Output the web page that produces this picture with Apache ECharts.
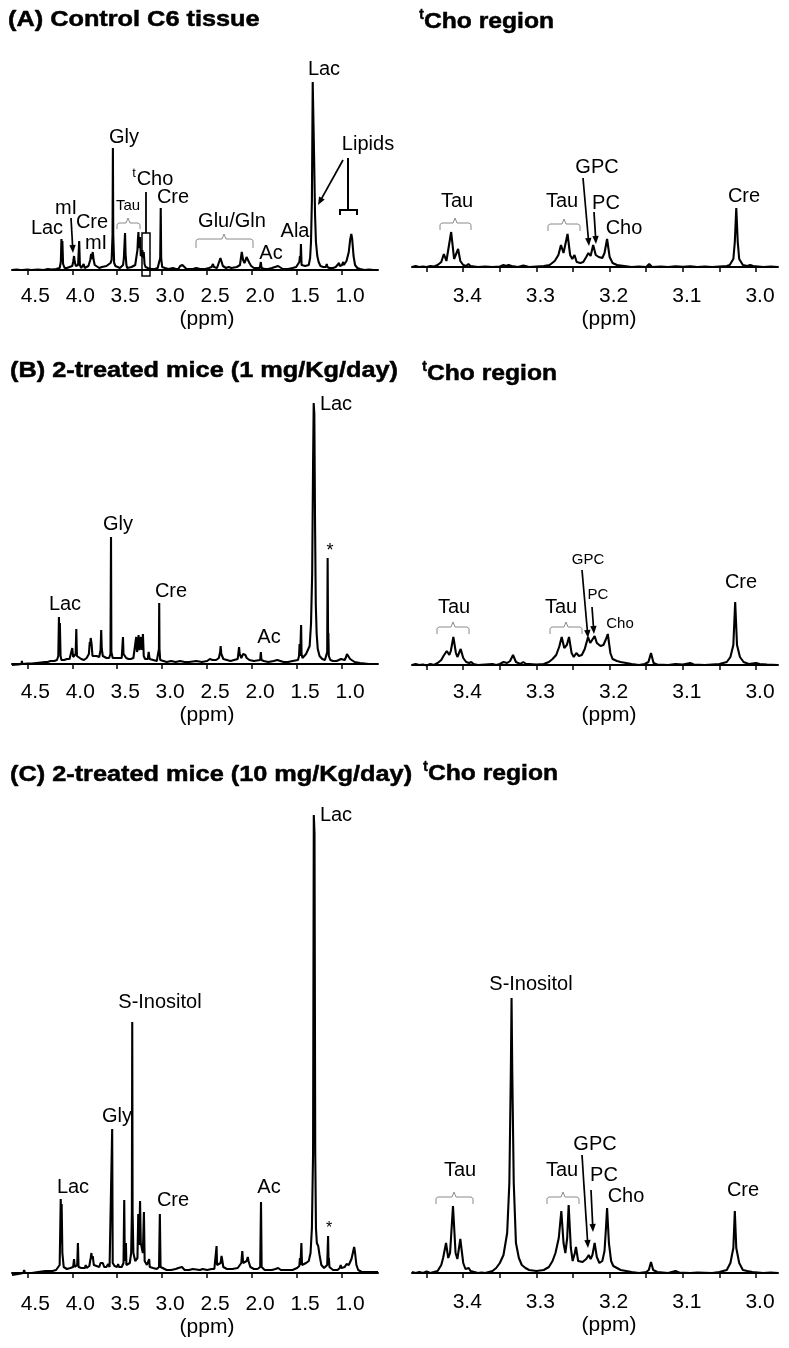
<!DOCTYPE html>
<html>
<head>
<meta charset="utf-8">
<script src="https://cdn.jsdelivr.net/npm/echarts@6/dist/echarts.min.js"></script>
<style>
html,body{margin:0;padding:0;background:#fff;}
#chart{width:789px;height:1348px;}
</style>
</head>
<body>
<div id="chart"></div>
<script>
// ---------- DATA (ppm, intensity in a.u. above baseline) ----------
const fullTicks = [1.0, 1.5, 2.0, 2.5, 3.0, 3.5, 4.0, 4.5];
const choLabels = [3.0, 3.1, 3.2, 3.3, 3.4];
const choTicks = [3.0, 3.05, 3.1, 3.15, 3.2, 3.25, 3.3, 3.35, 3.4, 3.45];

const panelTitles = ["(A) Control C6 tissue", "(B) 2-treated mice (1 mg/Kg/day)", "(C) 2-treated mice (10 mg/Kg/day)"];
const regionTitle = "Cho region";

// (A) Control C6 tissue, full spectrum
const specA_full = [
[4.67,0],[4.62,0.5],[4.575,0],[4.56,2],[4.55,0],[4.50,0.5],[4.455,0],[4.445,1.5],[4.435,0],[4.38,0.5],[4.32,0],[4.27,1],[4.25,2],[4.23,0.5],[4.18,1],[4.14,2],
[4.127,8],[4.12,31],[4.115,18],[4.11,29],[4.102,6],[4.085,2],[4.06,2],[4.04,3],
[4.00,4],[3.99,8],[3.98,14],[3.972,8],[3.96,4],
[3.935,5],[3.923,29],[3.915,5],[3.90,2],[3.885,3],[3.873,6],[3.862,2],
[3.82,4],[3.80,10],[3.79,16],[3.782,11],[3.772,18],[3.762,10],[3.75,5],[3.73,3],
[3.70,2],[3.67,3],[3.65,2],[3.62,4],[3.60,5],[3.575,7],
[3.562,10],[3.552,35],[3.548,122],[3.544,35],[3.534,7],[3.52,4],[3.50,3],[3.47,2],[3.45,3],
[3.435,5],[3.426,12],[3.42,14],[3.413,37],[3.407,16],[3.398,5],[3.39,2],[3.37,2],
[3.34,3],[3.32,4],[3.30,5],
[3.285,7],[3.275,20],[3.27,30],[3.264,38],[3.258,22],[3.252,25],[3.245,33],[3.238,14],
[3.232,18],[3.226,13],[3.22,20],[3.212,12],[3.205,18],[3.196,6],[3.185,3],[3.16,2],[3.12,1],[3.08,1],[3.05,2],
[3.032,3],[3.022,12],[3.016,62],[3.011,12],[3.00,3],[2.97,2],[2.93,1],[2.88,2],[2.85,1],
[2.82,1],[2.80,4],[2.775,5],[2.76,3],[2.73,1],[2.70,1],[2.68,2],[2.66,1],[2.62,2],[2.58,1],[2.52,1],
[2.48,2],[2.45,3],[2.435,6],[2.425,3],[2.41,4],[2.39,2],
[2.37,4],[2.352,12],[2.344,14],[2.336,12],[2.325,4],[2.29,2],[2.26,3],[2.23,2],[2.17,3],
[2.135,5],[2.115,18],[2.108,19],[2.1,10],[2.085,7],
[2.072,10],[2.062,13],[2.052,14],[2.044,11],[2.03,7],[2.01,4],[1.98,2],[1.96,2],
[1.915,2],[1.903,8],[1.895,2],[1.86,1],[1.82,1],
[1.78,2],[1.745,3],[1.71,4],[1.69,2],[1.66,1],[1.60,1],[1.55,2],[1.51,3],
[1.49,4],[1.475,8],[1.468,14],[1.462,8],[1.457,26],[1.45,5],[1.43,3],[1.41,4],
[1.39,3],[1.37,5],[1.355,12],[1.345,28],[1.335,70],[1.326,188],[1.318,186],[1.31,110],[1.30,55],[1.29,28],[1.275,14],[1.26,8],[1.24,4],[1.21,3],
[1.18,3],[1.17,6],[1.163,3],[1.14,2],[1.10,2],[1.07,3],[1.05,4],[1.033,7],[1.025,4],[1.00,5],[0.987,8],[0.98,5],[0.965,6],[0.95,9],[0.94,10],
[0.925,18],[0.91,30],[0.897,36],[0.887,31],[0.872,14],[0.855,5],[0.83,2],[0.80,1],[0.75,0],[0.70,0.5],[0.65,0],[0.60,0]
];

// (A) tCho region
const specA_cho = [
[3.47,0],[3.465,1],[3.46,0],[3.455,0.5],[3.45,0],[3.445,1],[3.44,0.5],[3.435,2],[3.43,5],[3.4265,13],[3.423,6],[3.4205,8],[3.4165,35],[3.4125,8],[3.41,7],[3.407,18],[3.404,6],[3.40,2],[3.396,1],[3.393,3],[3.39,1],
[3.38,0],[3.37,0.5],[3.36,0],[3.35,0.5],[3.345,2],[3.342,1],[3.338,2],[3.334,1],[3.325,0],[3.318,1.5],[3.31,0],[3.30,0.5],[3.29,1],
[3.282,2],[3.275,6],[3.27,12],[3.2665,22],[3.263,14],[3.2575,33],[3.254,12],[3.251,8],[3.248,12],[3.245,5],[3.24,4],
[3.236,5],[3.232,10],[3.229,14],[3.226,11],[3.2225,22],[3.219,12],[3.215,10],[3.21,9],[3.207,14],[3.2035,28],[3.20,10],[3.196,4],[3.19,2],[3.18,1],[3.17,0],
[3.16,0.5],[3.15,0],[3.146,3],[3.142,0],[3.13,0.5],[3.12,0],[3.11,0.8],[3.10,0.3],[3.09,0.8],[3.08,0],[3.07,0.5],[3.06,0],[3.05,0.5],[3.04,1],
[3.036,2],[3.031,8],[3.029,25],[3.027,59],[3.025,25],[3.023,8],[3.018,2],[3.012,1],[3.008,2],[3.004,1],[2.99,0],[2.98,0.5],[2.97,0]
];

// (B) 1 mg/Kg/day, full spectrum
const specB_full = [
[4.67,-1],[4.60,-0.5],[4.565,0],[4.56,3],[4.555,0],[4.50,0.5],[4.45,0.5],[4.40,1],[4.35,1.5],[4.30,2],[4.285,4],[4.275,2],[4.24,3],[4.20,3],[4.17,4],
[4.155,8],[4.148,47],[4.143,20],[4.138,41],[4.13,8],[4.12,4],[4.09,4],[4.06,5],[4.03,5],
[4.01,7],[4.0,16],[3.99,7],[3.975,8],[3.962,10],[3.955,35],[3.948,8],[3.93,6],[3.90,5],[3.88,6],[3.87,4],[3.84,6],
[3.815,10],[3.805,22],[3.80,18],[3.795,26],[3.785,20],[3.775,8],[3.76,6],[3.73,8],[3.72,6],[3.70,7],
[3.685,14],[3.678,34],[3.672,15],[3.66,8],[3.62,6],[3.59,6],
[3.575,10],[3.569,127],[3.565,12],[3.55,6],[3.535,5],
[3.45,6],[3.436,27],[3.43,10],[3.425,12],[3.418,8],[3.40,6],[3.385,8],[3.375,5],[3.35,5],[3.32,6],
[3.30,8],[3.289,27],[3.28,12],[3.272,15],[3.263,29],[3.255,14],[3.245,15],[3.237,27],[3.228,14],[3.214,30],[3.205,8],[3.19,5],
[3.16,5],[3.15,12],[3.14,5],[3.10,4],[3.06,3],
[3.042,4],[3.036,15],[3.033,61],[3.03,15],[3.022,4],[3.0,3],[2.95,2],[2.90,3],[2.85,2],[2.80,3],[2.75,2],[2.70,2],[2.62,3],[2.56,2],
[2.50,3],[2.47,5],[2.455,7],[2.44,4],[2.425,5],[2.40,4],[2.37,6],[2.355,12],[2.35,18],[2.342,10],[2.335,12],[2.32,5],[2.28,4],[2.24,3],[2.20,4],
[2.16,5],[2.145,17],[2.138,10],[2.13,8],[2.12,6],[2.10,10],[2.085,8],[2.075,9],[2.06,6],[2.03,4],[1.98,3],
[1.91,4],[1.903,12],[1.896,4],[1.87,3],[1.82,2],[1.76,3],[1.72,4],[1.70,3],[1.65,2],[1.60,2],[1.55,3],
[1.49,4],[1.478,8],[1.472,20],[1.466,8],[1.46,10],[1.455,39],[1.45,10],[1.44,6],[1.42,8],[1.40,10],
[1.38,10],[1.36,18],[1.345,40],[1.332,90],[1.322,200],[1.315,261],[1.308,250],[1.30,140],[1.292,60],[1.282,30],[1.27,15],[1.25,8],[1.22,5],[1.19,4],
[1.175,5],[1.165,12],[1.16,106],[1.155,20],[1.152,31],[1.147,8],[1.13,4],[1.10,3],[1.06,3],
[1.035,4],[1.025,6],[1.02,4],[1.012,5],[1.005,3],[0.97,4],[0.955,7],[0.945,10],[0.935,11],[0.925,8],[0.91,5],[0.89,3],[0.86,2],[0.80,1],[0.70,0],[0.60,0]
];

// (B) tCho region
const specB_cho = [
[3.47,0],[3.465,1],[3.46,0],[3.455,0.5],[3.45,-0.5],[3.445,1],[3.44,0],[3.435,2],[3.43,5],[3.427,9],[3.4225,14],[3.419,10],[3.417,14],[3.4135,28],[3.41,12],[3.408,8],[3.4035,16],[3.40,7],[3.396,3],[3.392,2],[3.389,3],[3.386,1],
[3.38,0],[3.37,0.5],[3.36,1],[3.355,0],[3.35,1],[3.345,3],[3.343,4],[3.34,2],[3.336,4],[3.332,10],[3.328,3],[3.322,1],[3.318,3],[3.314,1],[3.31,1],[3.30,0.5],[3.29,1],
[3.283,3],[3.278,6],[3.273,10],[3.269,18],[3.2655,28],[3.262,17],[3.2605,15],[3.2585,20],[3.2555,28],[3.252,12],[3.249,8],[3.2455,12],[3.242,9],[3.238,10],
[3.234,16],[3.2295,28],[3.2265,22],[3.2245,24],[3.2205,29],[3.2175,22],[3.2125,19],[3.2085,20],[3.2055,25],[3.2025,31],[3.199,12],[3.196,6],[3.19,4],[3.185,3],[3.17,1],[3.16,0],
[3.152,1],[3.147,3],[3.1435,12],[3.14,2],[3.135,0.5],[3.12,0],[3.11,1],[3.10,0.5],[3.09,2],[3.085,0.5],[3.07,0],[3.06,0.5],[3.05,1],
[3.04,3],[3.035,8],[3.031,20],[3.0285,63],[3.026,20],[3.022,8],[3.017,3],[3.01,1],[3.005,1.5],[3.0,2],[2.995,1],[2.985,0.5],[2.97,0]
];

// (C) 10 mg/Kg/day, full spectrum
const specC_full = [
[4.67,-2],[4.60,-1],[4.545,0],[4.535,3],[4.525,0],[4.45,0],[4.38,1],[4.30,2],[4.285,3],[4.27,2],[4.22,2],[4.18,3],
[4.14,8],[4.128,74],[4.122,30],[4.118,69],[4.11,20],[4.104,20],[4.095,6],[4.06,4],[4.02,5],
[3.99,6],[3.98,14],[3.972,6],[3.96,6],[3.945,8],[3.937,30],[3.93,6],[3.90,5],[3.86,5],[3.85,8],[3.84,5],
[3.81,7],[3.795,15],[3.787,20],[3.78,14],[3.772,17],[3.76,8],[3.74,6],[3.70,6],[3.685,10],[3.66,10],[3.645,6],[3.62,6],[3.60,9],[3.585,6],
[3.565,8],[3.556,144],[3.55,10],[3.53,7],[3.50,6],[3.49,9],[3.48,6],[3.45,6],
[3.43,10],[3.422,73],[3.417,25],[3.41,12],[3.403,30],[3.398,8],
[3.36,10],[3.345,20],[3.337,60],[3.333,251],[3.329,60],[3.32,20],[3.30,12],
[3.275,15],[3.266,59],[3.256,28],[3.246,72],[3.238,30],[3.228,28],[3.215,20],[3.203,61],[3.195,12],[3.17,8],[3.145,14],[3.138,6],[3.10,5],[3.06,4],
[3.035,6],[3.026,59],[3.018,6],[3.0,4],[2.95,3],[2.90,3],[2.85,4],[2.82,5],[2.80,7],[2.78,6],[2.75,3],[2.70,3],[2.66,4],[2.64,3],[2.58,3],[2.55,4],[2.50,3],
[2.45,4],[2.435,6],[2.42,4],[2.40,6],[2.395,27],[2.39,8],[2.35,10],[2.34,17],[2.334,14],[2.33,14],[2.32,6],[2.28,4],[2.22,4],[2.16,5],
[2.12,10],[2.109,22],[2.10,10],[2.08,9],[2.06,12],[2.048,16],[2.04,12],[2.02,6],[1.98,4],[1.94,4],
[1.91,6],[1.901,71],[1.894,6],[1.86,3],[1.78,3],[1.74,4],[1.71,5],[1.68,3],[1.60,3],[1.55,3],[1.50,5],
[1.475,7],[1.468,15],[1.462,8],[1.452,30],[1.445,8],[1.43,8],[1.40,10],
[1.37,12],[1.35,20],[1.335,45],[1.322,120],[1.314,458],[1.306,440],[1.298,120],[1.29,45],[1.28,30],[1.265,27],[1.25,18],[1.23,8],[1.20,5],[1.18,5],
[1.165,8],[1.155,37],[1.15,12],[1.146,15],[1.14,6],[1.10,3],[1.05,3],
[1.025,5],[1.015,8],[1.008,5],[1.0,6],[0.99,4],[0.97,6],[0.95,9],[0.94,11],[0.925,8],[0.91,10],[0.895,14],[0.875,22],[0.865,26],[0.855,20],[0.84,8],[0.82,3],[0.78,1],[0.70,1],[0.60,1]
];

// (C) tCho region
const specC_cho = [
[3.47,1],[3.465,0],[3.46,1],[3.455,0],[3.45,1.5],[3.445,0],[3.44,1],[3.435,2],[3.43,8],[3.4275,15],[3.4235,30],[3.4205,15],[3.418,20],[3.414,67],[3.4105,20],[3.408,14],[3.404,34],[3.40,10],[3.397,4],[3.395,2],[3.3925,5],[3.39,2],[3.385,1],
[3.38,0],[3.375,0.5],[3.37,0],[3.365,1],[3.36,2],[3.355,5],[3.35,10],[3.345,18],[3.34,40],[3.337,90],[3.335,200],[3.334,275],[3.333,200],[3.331,90],[3.328,30],[3.324,15],[3.32,8],[3.315,5],[3.31,3],[3.30,2],
[3.29,3],[3.283,6],[3.278,12],[3.274,20],[3.2695,35],[3.266,62],[3.263,30],[3.2605,20],[3.258,35],[3.256,68],[3.253,25],[3.2505,12],[3.2475,20],[3.246,26],[3.243,12],[3.2405,10],
[3.237,11],[3.232,14],[3.2285,18],[3.226,14],[3.2235,18],[3.2205,30],[3.2175,16],[3.214,10],[3.21,12],[3.207,22],[3.205,45],[3.2035,65],[3.201,30],[3.198,12],[3.195,7],[3.19,5],[3.185,3],[3.17,1],[3.16,0],
[3.15,1],[3.1465,3],[3.1435,11],[3.1405,3],[3.135,1],[3.12,0],[3.11,2],[3.105,0.5],[3.09,0],[3.08,0.5],[3.06,0],[3.05,1],
[3.04,3],[3.035,10],[3.031,25],[3.029,62],[3.027,25],[3.023,10],[3.018,3],[3.012,2],[3.005,1],[2.99,0],[2.98,0.5],[2.97,0]
];

// ---------- LAYOUT ----------
const FONT = '"Liberation Sans", Arial, Helvetica, sans-serif';
const spectra = [specA_full, specA_cho, specB_full, specB_cho, specC_full, specC_cho];
const grids = [
  {left:12, top:60, width:366, height:218},
  {left:412, top:60, width:366, height:218},
  {left:12, top:395, width:366, height:279},
  {left:412, top:395, width:366, height:279},
  {left:12, top:800, width:366, height:486},
  {left:412, top:800, width:366, height:484}
];
const yRanges = [[-8,210],[-11,207],[-10,269],[-9,270],[-13,473],[-11,473]];

function xAxisFor(i){
  const full = (i % 2 === 0);
  return {
    gridIndex:i, type:'value', inverse:true,
    min: full ? 0.6 : 2.97, max: full ? 4.67 : 3.47,
    axisLine:{show:true, lineStyle:{color:'#000', width:2}},
    axisTick:{show:true, customValues: full ? fullTicks : choTicks, length:5, lineStyle:{color:'#000', width:1.5}},
    axisLabel:{customValues: full ? fullTicks : choLabels, formatter:v=>Number(v).toFixed(1),
      fontSize:21, color:'#000', fontFamily:FONT, margin:8, padding: full ? [0,0,0,16] : [0,0,0,8]},
    splitLine:{show:false},
    name:'(ppm)', nameLocation:'middle', nameGap:31,
    nameTextStyle:{fontSize:21, color:'#000', fontFamily:FONT, padding: full ? [0,0,0,24] : [0,0,0,28]}
  };
}

const G = [];
function T(x,y,s,size,o){
  o = o || {};
  const st = {text:s, fontSize:size, fontFamily:FONT, fontWeight:o.bold?'bold':'normal', fill:'#000',
      align:o.align||'center', verticalAlign:'middle'};
  if (o.stroke) { st.stroke = '#000'; st.lineWidth = o.stroke; }
  G.push({type:'text', x:x, y:y, scaleX:o.sx||1, z:10, style:st});
}
function L(x1,y1,x2,y2,w,c){
  G.push({type:'line', z:10, shape:{x1:x1,y1:y1,x2:x2,y2:y2}, style:{stroke:c||'#000', lineWidth:w||1.6}});
}
function P(pts,w,c){
  G.push({type:'polyline', z:10, shape:{points:pts}, style:{stroke:c||'#000', fill:null, lineWidth:w||1}});
}
function A(x1,y1,x2,y2){
  const dx=x2-x1, dy=y2-y1, len=Math.hypot(dx,dy), ux=dx/len, uy=dy/len, hl=8, hw=3.2;
  const bx=x2-ux*hl, by=y2-uy*hl;
  L(x1,y1,bx+ux*1,by+uy*1,1.7);
  G.push({type:'polygon', z:10, shape:{points:[[x2,y2],[bx-uy*hw,by+ux*hw],[bx+uy*hw,by-ux*hw]]}, style:{fill:'#000'}});
}
function BR(x1,x2,y,tx,down){
  down = down || 7;
  P([[x1,y+down],[x1,y+1.5],[x1+2,y],[tx-2,y],[tx,y-5],[tx+2,y],[x2-2,y],[x2,y+1.5],[x2,y+down]],1,'#8a8a8a');
}
function TITLE(x,y,s){ T(x,y,s,22,{bold:true, align:'left', sx:1.15, stroke:0.5}); }
function REGION(x,y){
  T(x,y-7,'t',15,{bold:true, align:'left', stroke:0.3});
  T(x+5,y,regionTitle,22,{bold:true, align:'left', sx:1.12, stroke:0.5});
}

// Titles
TITLE(8,20,panelTitles[0]);   REGION(419,22);
TITLE(10,371,panelTitles[1]); REGION(422,374);
TITLE(10,775,panelTitles[2]); REGION(423,774);

// ---- Panel A, full ----
T(47,228,'Lac',20); T(66,208,'mI',20); A(71,218,73,253);
T(92,222,'Cre',20); T(96,243,'mI',20);
T(124,137,'Gly',20);
T(128,206,'Tau',15); BR(117,140,223,128,6);
T(134,173,'t',13); T(155,179,'Cho',20);
L(146,192,146,233,1.8);
G.push({type:'rect', z:10, shape:{x:142,y:233,width:8,height:43}, style:{stroke:'#000', fill:null, lineWidth:1.5}});
T(173,197,'Cre',20);
T(232,221,'Glu/Gln',20); BR(196,253,239,224,9);
T(271,253,'Ac',20); T(295,231,'Ala',20);
T(324,69,'Lac',20);
T(368,144,'Lipids',20);
A(343,160,318,205);
L(348,158,348,210,2);
P([[340,215],[340,210],[357,210],[357,215]],2,'#000');

// ---- Panel A, tCho ----
T(457,201,'Tau',20); BR(440,471,223,455,7);
T(562,201,'Tau',20); BR(548,580,224,564,7);
T(597,167,'GPC',20); A(583,178,589,246);
T(606,203,'PC',20); A(594,212,596,244);
T(624,228,'Cho',20);
T(744,196,'Cre',20);

// ---- Panel B, full ----
T(336,404,'Lac',20);
T(330,551,'*',18);
T(118,524,'Gly',20);
T(171,591,'Cre',20);
T(65,604,'Lac',20);
T(269,637,'Ac',20);

// ---- Panel B, tCho ----
T(454,607,'Tau',20); BR(437,469,627,453,7);
T(561,607,'Tau',20); BR(550,582,627,566,7);
T(588,560,'GPC',15); A(582,570,588,638);
T(598,595,'PC',15); A(592,607,594,634);
T(620,624,'Cho',15);
T(741,582,'Cre',20);

// ---- Panel C, full ----
T(336,815,'Lac',20);
T(160,1002,'S-Inositol',20);
T(117,1116,'Gly',20);
T(73,1187,'Lac',20);
T(173,1200,'Cre',20);
T(269,1187,'Ac',20);
T(329,1229,'*',16);

// ---- Panel C, tCho ----
T(531,984,'S-Inositol',20);
T(460,1170,'Tau',20); BR(436,473,1197,454,7);
T(562,1170,'Tau',20); BR(547,579,1197,563,7);
T(595,1144,'GPC',20); A(582,1155,588,1248);
T(604,1175,'PC',20); A(591,1190,593,1232);
T(626,1196,'Cho',20);
T(743,1190,'Cre',20);

const option = {
  backgroundColor:'#fff',
  animation:false,
  grid: grids,
  xAxis: grids.map((g,i)=>xAxisFor(i)),
  yAxis: grids.map((g,i)=>({gridIndex:i, type:'value', min:yRanges[i][0], max:yRanges[i][1], show:false})),
  series: spectra.map((d,i)=>({
    type:'line', xAxisIndex:i, yAxisIndex:i, data:d, symbol:'none', showSymbol:false,
    silent:true, clip:true, lineStyle:{color:'#000', width:2.1}
  })),
  graphic: G
};

const chart = echarts.init(document.getElementById('chart'), null, {renderer:'canvas'});
chart.setOption(option);
</script>
</body>
</html>
